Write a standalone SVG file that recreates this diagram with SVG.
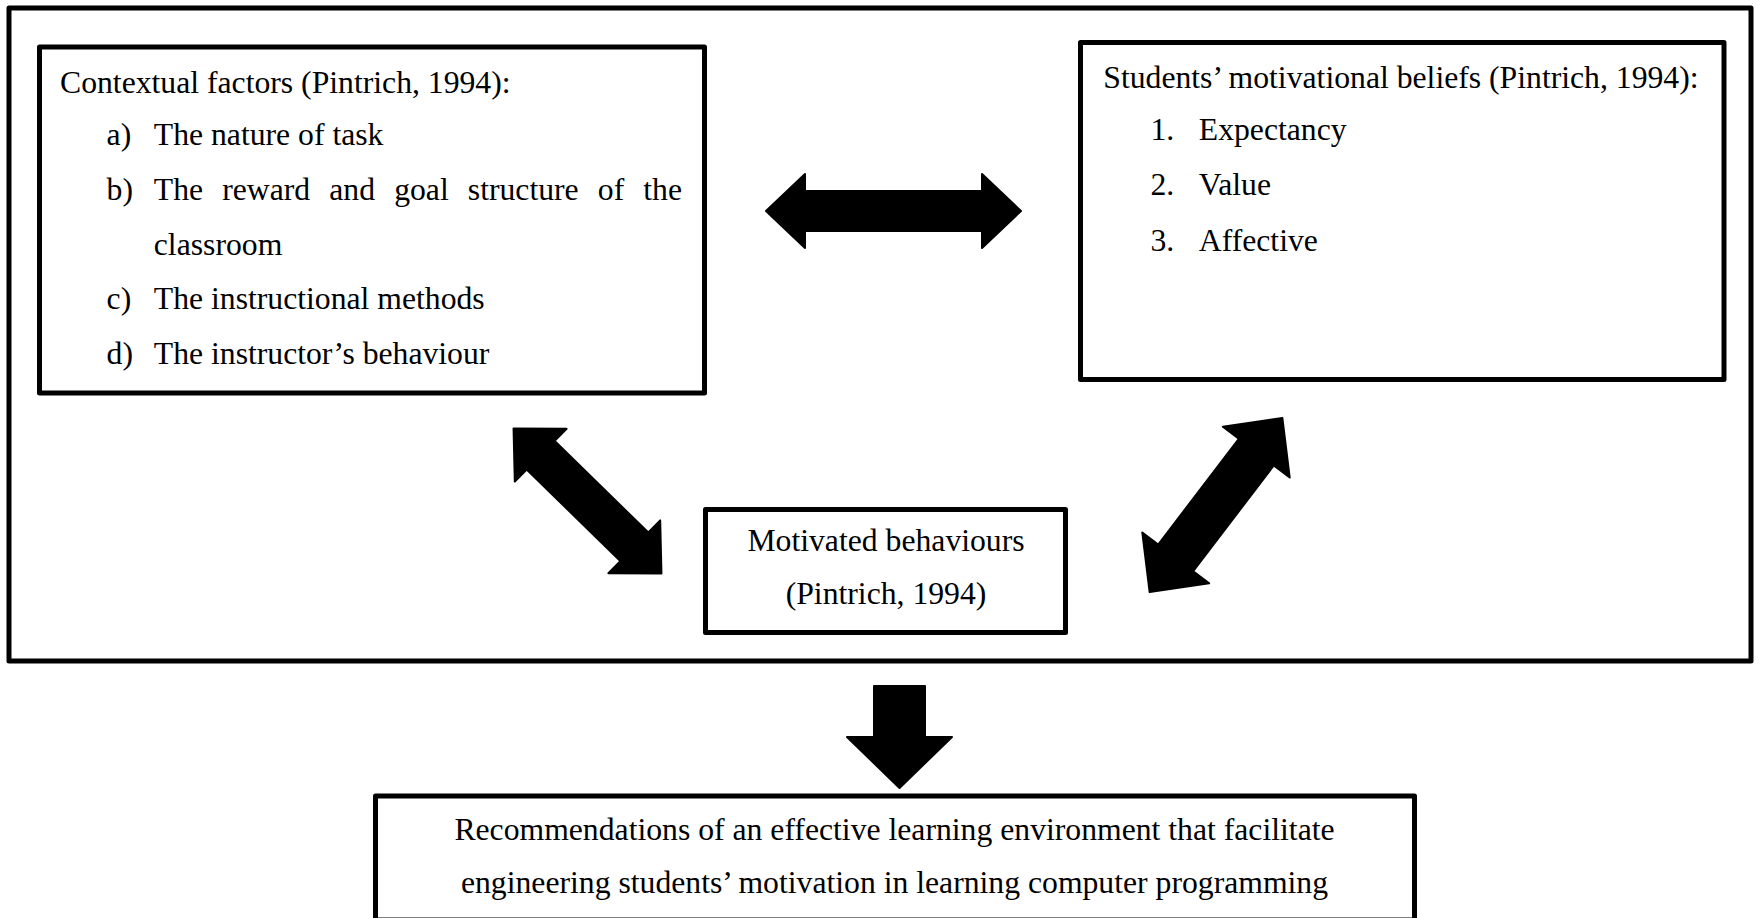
<svg xmlns="http://www.w3.org/2000/svg" width="1760" height="918" viewBox="0 0 1760 918">
  <style>
    .frame { fill: none; stroke: #000; stroke-width: 5; stroke-linejoin: round; }
    .box { fill: #fff; stroke: #000; stroke-width: 5; stroke-linejoin: round; }
    .t { font-family: "Liberation Serif", "Times New Roman", serif; font-size: 31.7px; fill: #000; }
    .c { text-anchor: middle; }
    .arrow { fill: #000; stroke: #000; stroke-width: 2; stroke-linejoin: round; }
  </style>

  <rect x="0" y="0" width="1760" height="918" fill="#fff"/>

  <!-- outer frame enclosing the motivation model -->
  <rect id="model-frame" class="frame" x="9" y="8" width="1742" height="653"/>

  <!-- contextual factors -->
  <g id="contextual-factors">
    <rect class="box" x="39.5" y="47" width="665" height="346"/>
    <text class="t" x="60" y="93">Contextual factors (Pintrich, 1994):</text>
    <text class="t" x="106.6" y="144.5">a)</text>
    <text class="t" x="153.8" y="144.5">The nature of task</text>
    <text class="t" x="106.6" y="200">b)</text>
    <text class="t" x="153.8" y="200" word-spacing="11.2">The reward and goal structure of the</text>
    <text class="t" x="153.8" y="254.5">classroom</text>
    <text class="t" x="106.6" y="309.4">c)</text>
    <text class="t" x="153.8" y="309.4">The instructional methods</text>
    <text class="t" x="106.6" y="364">d)</text>
    <text class="t" x="153.8" y="364">The instructor’s behaviour</text>
  </g>

  <!-- students' motivational beliefs -->
  <g id="motivational-beliefs">
    <rect class="box" x="1080.5" y="42.5" width="643.5" height="337"/>
    <text class="t" x="1103.3" y="88">Students’ motivational beliefs (Pintrich, 1994):</text>
    <text class="t" x="1150.5" y="139.5">1.</text>
    <text class="t" x="1198.8" y="139.5">Expectancy</text>
    <text class="t" x="1150.5" y="194.5">2.</text>
    <text class="t" x="1198.8" y="194.5">Value</text>
    <text class="t" x="1150.5" y="251">3.</text>
    <text class="t" x="1198.8" y="251">Affective</text>
  </g>

  <!-- motivated behaviours -->
  <g id="motivated-behaviours">
    <rect class="box" x="705.5" y="509.5" width="360" height="123"/>
    <text class="t c" x="886" y="551">Motivated behaviours</text>
    <text class="t c" x="886" y="604">(Pintrich, 1994)</text>
  </g>

  <!-- recommendations -->
  <g id="recommendations">
    <rect class="box" x="375.5" y="796" width="1039" height="124"/>
    <text class="t c" x="894.5" y="840">Recommendations of an effective learning environment that facilitate</text>
    <text class="t c" x="894.5" y="893">engineering students’ motivation in learning computer programming</text>
  </g>

  <!-- block arrows between the boxes -->
  <g id="connectors">
    <path class="arrow" transform="translate(893.5 211)"
          d="M-127.5,0 L-88.5,-37 L-88.5,-20 L88.5,-20 L88.5,-37 L127.5,0 L88.5,37 L88.5,20 L-88.5,20 L-88.5,37 Z"/>
    <path class="arrow" transform="translate(587.5 501) rotate(44.4)"
          d="M-103.5,0 L-65.5,-37 L-65.5,-20 L65.5,-20 L65.5,-37 L103.5,0 L65.5,37 L65.5,20 L-65.5,20 L-65.5,37 Z"/>
    <path class="arrow" transform="translate(1216 505) rotate(-52.7)"
          d="M-109.5,0 L-66.5,-42 L-66.5,-22 L66.5,-22 L66.5,-42 L109.5,0 L66.5,42 L66.5,22 L-66.5,22 L-66.5,42 Z"/>
    <path class="arrow" d="M874,686 L925,686 L925,737 L952,737 L899.5,788 L847,737 L874,737 Z"/>
  </g>
</svg>
